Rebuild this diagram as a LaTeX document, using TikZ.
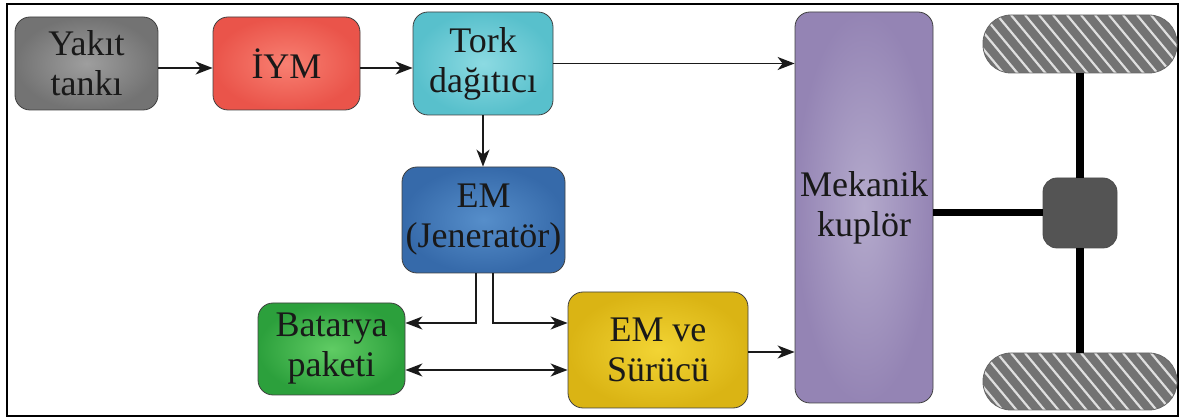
\documentclass[tikz,border=0pt]{standalone}
\usepackage{fontspec}
\setmainfont{Liberation Serif}
\newfontfamily\tnr{Liberation Serif}
\usetikzlibrary{arrows.meta}
\definecolor{arr}{HTML}{1a1a1a}
\tikzset{
  blk/.style={draw=black!75, line width=0.8pt, rounded corners=15pt, inner sep=0pt,
    align=center, font=\tnr\fontsize{36}{40}\selectfont, text=black!90},
  conn/.style={draw=arr, line width=1.6pt},
  arw/.style={conn, -{Stealth[length=17pt,width=13pt,inset=5pt]}},
  darw/.style={conn, {Stealth[length=17pt,width=13pt,inset=5pt]}-{Stealth[length=17pt,width=13pt,inset=5pt]}},
  shaft/.style={draw=black, line width=8pt},
  wheel/.style={draw=black!60, line width=0.8pt, fill=black!55, rounded corners=28pt,
    minimum width=194pt, inner sep=0pt,
    path picture={\foreach \i in {-5,...,15}{\draw[white!75!gray, line width=2.2pt]
      ([xshift=\i*14pt]path picture bounding box.north west) -- ++(50,60);}}}
}
\begin{document}
\begin{tikzpicture}[x=1pt,y=-1pt]
\useasboundingbox (0,0) rectangle (1181,419);
\draw[line width=2pt] (7,4) rectangle (1178,416);
% blocks
\node[blk, shade, inner color=black!38, outer color=black!55, minimum width=143pt, minimum height=93pt] (yakit) at (86.5,63.5) {Yakıt\\tankı};
\node[blk, shade, inner color={rgb,255:red,248;green,128;blue,114}, outer color={rgb,255:red,234;green,84;blue,74}, minimum width=147pt, minimum height=93pt] (iym) at (286.5,63.5) {İYM};
\node[blk, shade, inner color={rgb,255:red,140;green,218;blue,226}, outer color={rgb,255:red,88;green,192;blue,204}, minimum width=140pt, minimum height=103pt] (tork) at (483,63.5) {Tork\\dağıtıcı};
\node[blk, shade, inner color={rgb,255:red,86;green,142;blue,202}, outer color={rgb,255:red,54;green,106;blue,170}, minimum width=163pt, minimum height=106pt] (em) at (483.5,220) {EM\\(Jeneratör)};
\node[blk, shade, inner color={rgb,255:red,96;green,204;blue,100}, outer color={rgb,255:red,44;green,160;blue,60}, minimum width=147pt, minimum height=92pt] (bat) at (331.5,349) {Batarya\\paketi};
\node[blk, shade, inner color={rgb,255:red,242;green,212;blue,52}, outer color={rgb,255:red,218;green,180;blue,20}, minimum width=180pt, minimum height=116pt] (emsur) at (658,350) {EM ve\\Sürücü};
\node[blk, shade, inner color={rgb,255:red,180;green,170;blue,204}, outer color={rgb,255:red,148;green,132;blue,180}, minimum width=138pt, minimum height=391pt] (mek) at (864,207.5) {Mekanik\\kuplör};
\node[draw=black!70, line width=0.8pt, fill=black!67, rounded corners=14pt, minimum width=74pt, minimum height=70pt, inner sep=0pt] (diff) at (1080,213) {};
\node[wheel, minimum height=58pt] (w1) at (1080,44) {};
\node[wheel, minimum height=57pt] (w2) at (1080,381.5) {};
% connectors
\draw[arw] ([yshift=-4.5pt]yakit.east) -- ([yshift=-4.5pt]iym.west);
\draw[arw] ([yshift=-4.5pt]iym.east) -- ([yshift=-4.5pt]tork.west);
\draw[arw] (tork.east) -- (mek.west |- tork.east);
\draw[arw] (tork.south) -- (tork.south |- em.north);
\draw[arw] ([xshift=-7.5pt]em.south) |- ([yshift=26pt]bat.east);
\draw[arw] ([xshift=9.5pt]em.south) |- ([yshift=27pt]emsur.west);
\draw[darw] ([yshift=-21pt]bat.east) -- ([yshift=-21pt]bat.east -| emsur.west);
\draw[arw] ([yshift=-2pt]emsur.east) -- ([yshift=-2pt]emsur.east -| mek.west);
\draw[line width=7pt] (mek.east |- diff.west) -- (diff.west);
\draw[shaft] (w1.south) -- (diff.north);
\draw[shaft] (diff.south) -- (w2.north);
\end{tikzpicture}
\end{document}
